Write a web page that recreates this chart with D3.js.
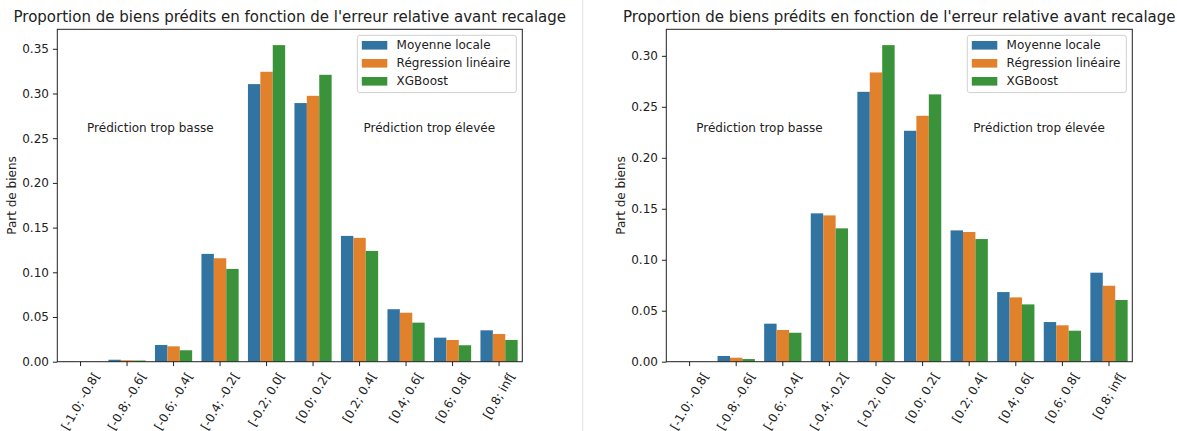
<!DOCTYPE html>
<html>
<head>
<meta charset="utf-8">
<script src="https://cdn.jsdelivr.net/npm/d3@7"></script>
<style>
  html, body { margin: 0; padding: 0; background: #ffffff; }
  svg { display: block; font-family: "DejaVu Sans", sans-serif; }
</style>
</head>
<body>
<svg id="chart" width="1177" height="431"></svg>
<script>
// Error-bucket categories (x axis)
const categories = ["[-1.0; -0.8[", "[-0.8; -0.6[", "[-0.6; -0.4[", "[-0.4; -0.2[", "[-0.2; 0.0[",
                    "[0.0; 0.2[", "[0.2; 0.4[", "[0.4; 0.6[", "[0.6; 0.8[", "[0.8; inf["];
const models = ["Moyenne locale", "Régression linéaire", "XGBoost"];
const modelColors = ["#3274a1", "#e1812c", "#3a923a"];

// Left panel: share of properties per relative-error bucket
const leftMoyenne    = [0.0003, 0.0022, 0.0187, 0.1206, 0.3105, 0.2893, 0.1407, 0.0587, 0.0269, 0.0351];
const leftRegression = [0.0002, 0.0016, 0.0172, 0.1157, 0.3243, 0.2974, 0.1385, 0.0548, 0.0243, 0.0310];
const leftXGBoost    = [0.0002, 0.0013, 0.0128, 0.1038, 0.3541, 0.3209, 0.1239, 0.0437, 0.0184, 0.0243];
const leftTicks = [0.00, 0.05, 0.10, 0.15, 0.20, 0.25, 0.30, 0.35];

// Right panel
const rightMoyenne    = [0.0003, 0.0056, 0.0373, 0.1455, 0.2647, 0.2265, 0.1288, 0.0683, 0.0389, 0.0873];
const rightRegression = [0.0002, 0.0039, 0.0311, 0.1435, 0.2837, 0.2412, 0.1272, 0.0631, 0.0357, 0.0745];
const rightXGBoost    = [0.0002, 0.0026, 0.0284, 0.1308, 0.3105, 0.2622, 0.1203, 0.0562, 0.0304, 0.0605];
const rightTicks = [0.00, 0.05, 0.10, 0.15, 0.20, 0.25, 0.30];

const titleText = "Proportion de biens prédits en fonction de l'erreur relative avant recalage";
const yLabelText = "Part de biens";
const lowText = "Prédiction trop basse";
const highText = "Prédiction trop élevée";

const svg = d3.select("#chart");

// thin separator between the two figures
svg.append("line")
  .attr("x1", 582.7).attr("x2", 582.7)
  .attr("y1", 0).attr("y2", 431)
  .attr("stroke", "#e2e2e2").attr("stroke-width", 1);

function drawPanel(opts) {
  const { left, right, top, bottom, series, ticks } = opts;
  const g = svg.append("g");

  const yMax = d3.max(series.flat()) * 1.05;
  const y = d3.scaleLinear().domain([0, yMax]).range([bottom, top]);
  const x = d3.scaleBand().domain(categories).range([left, right]).paddingInner(0).paddingOuter(0);
  const inner = d3.scaleBand().domain(d3.range(models.length))
    .range([x.bandwidth() * 0.1, x.bandwidth() * 0.9]);

  // bars
  series.forEach((vals, si) => {
    g.append("g").selectAll("rect")
      .data(vals.map((v, i) => ({ cat: categories[i], v })))
      .join("rect")
      .attr("x", d => x(d.cat) + inner(si))
      .attr("width", inner.bandwidth())
      .attr("y", d => y(d.v))
      .attr("height", d => y(0) - y(d.v))
      .attr("fill", modelColors[si]);
  });

  // y axis
  const yAxis = g.append("g")
    .attr("transform", `translate(${left},0)`)
    .call(d3.axisLeft(y).tickValues(ticks).tickFormat(d3.format(".2f")).tickSize(4.4).tickPadding(4))
    .call(a => a.select(".domain").remove());
  yAxis.selectAll(".tick line").attr("stroke", "#222").attr("stroke-width", 1);
  yAxis.selectAll(".tick text").attr("font-size", 12).attr("fill", "#222")
    .attr("font-family", "DejaVu Sans, sans-serif");

  // x axis
  const xAxis = g.append("g")
    .attr("transform", `translate(0,${bottom})`)
    .call(d3.axisBottom(x).tickSize(4.4).tickFormat(""))
    .call(a => a.select(".domain").remove());
  xAxis.selectAll(".tick line").attr("stroke", "#222").attr("stroke-width", 1);

  // rotated category labels, bounding box centred under each tick
  const fs = 12;
  categories.forEach(c => {
    const cx = x(c) + x.bandwidth() / 2;
    const lg = g.append("g");
    const t = lg.append("text")
      .attr("font-size", fs).attr("fill", "#222")
      .attr("text-anchor", "middle")
      .attr("dominant-baseline", "central")
      .attr("transform", "rotate(-60)")
      .text(c);
    const L = t.node().getComputedTextLength();
    const H = L * Math.sin(Math.PI / 3) + fs * 1.1 * Math.cos(Math.PI / 3);
    lg.attr("transform", `translate(${cx},${bottom + 8.5 + H / 2})`);
  });

  // frame
  g.append("rect")
    .attr("x", left).attr("y", top)
    .attr("width", right - left).attr("height", bottom - top)
    .attr("fill", "none").attr("stroke", "#222").attr("stroke-width", 1);

  // title
  g.append("text")
    .attr("x", (left + right) / 2).attr("y", 22)
    .attr("text-anchor", "middle")
    .attr("font-size", 15).attr("fill", "#222")
    .text(titleText);

  // y label
  g.append("text")
    .attr("transform", `translate(${left - 45},${(top + bottom) / 2}) rotate(-90)`)
    .attr("text-anchor", "middle")
    .attr("dominant-baseline", "central")
    .attr("font-size", 12).attr("fill", "#222")
    .text(yLabelText);

  // annotations
  const annY = bottom - 0.703 * (bottom - top);
  [[0.2, lowText], [0.8, highText]].forEach(([fx, txt]) => {
    g.append("text")
      .attr("x", left + fx * (right - left)).attr("y", annY)
      .attr("text-anchor", "middle")
      .attr("dominant-baseline", "central")
      .attr("font-size", 12).attr("fill", "#222")
      .text(txt);
  });

  // legend
  const lw = 159, lh = 57.3;
  const lx = right - 6 - lw, ly = top + 6;
  const leg = g.append("g");
  leg.append("rect")
    .attr("x", lx).attr("y", ly).attr("width", lw).attr("height", lh)
    .attr("rx", 2.5).attr("ry", 2.5)
    .attr("fill", "#ffffff").attr("fill-opacity", 0.8)
    .attr("stroke", "#d0d0d0").attr("stroke-width", 1);
  models.forEach((m, i) => {
    const rowY = ly + 10 + i * 18;
    leg.append("rect")
      .attr("x", lx + 4.5).attr("y", rowY - 4.3)
      .attr("width", 25.5).attr("height", 8.6)
      .attr("fill", modelColors[i]);
    leg.append("text")
      .attr("x", lx + 39.3).attr("y", rowY)
      .attr("dominant-baseline", "central")
      .attr("font-size", 12).attr("fill", "#222")
      .text(m);
  });
}

drawPanel({
  left: 57.3, right: 522.3, top: 29.3, bottom: 361.7,
  series: [leftMoyenne, leftRegression, leftXGBoost],
  ticks: leftTicks
});

drawPanel({
  left: 666.3, right: 1132.3, top: 29.3, bottom: 361.7,
  series: [rightMoyenne, rightRegression, rightXGBoost],
  ticks: rightTicks
});
</script>
</body>
</html>
